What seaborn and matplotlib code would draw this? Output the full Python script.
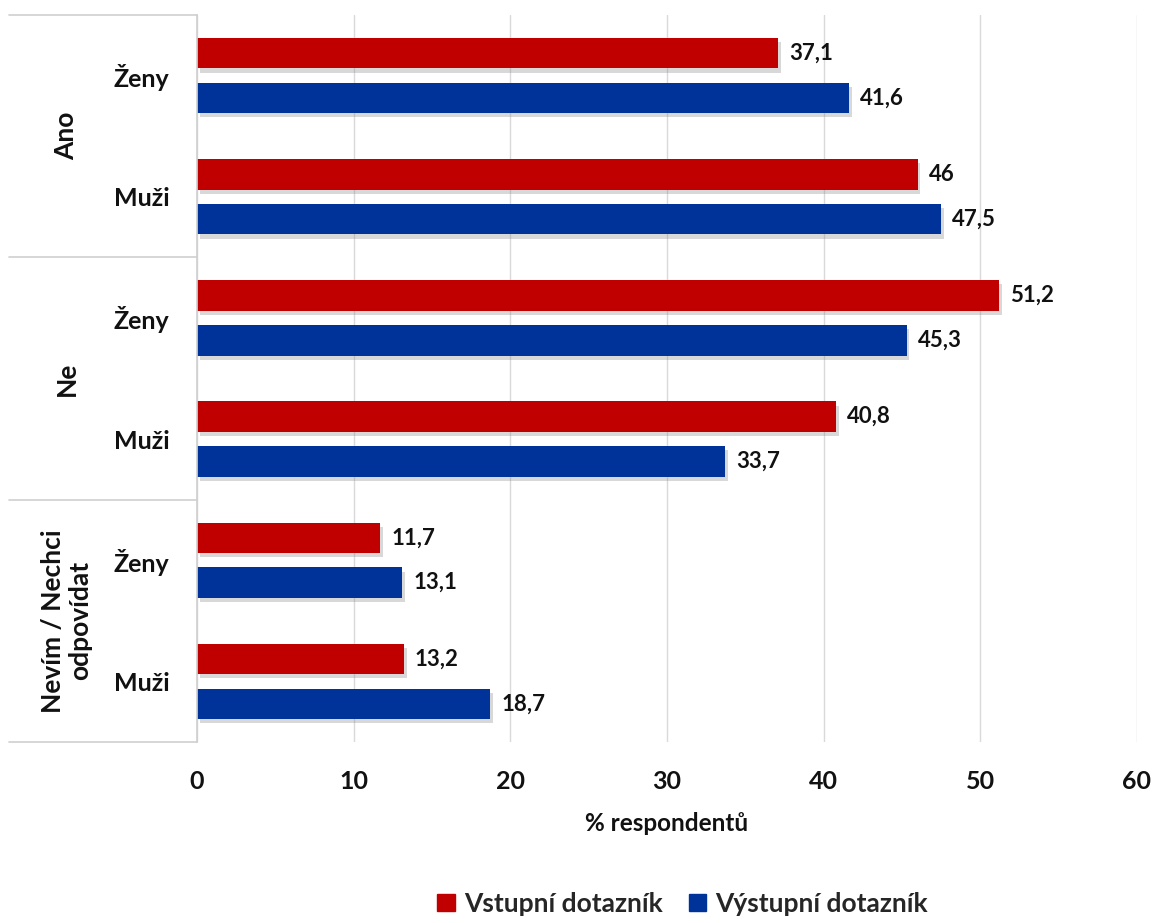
import pandas as pd
import matplotlib.pyplot as plt
import matplotlib.patheffects as pe
from matplotlib.patches import Patch
import seaborn as sns

groups = ["Ano", "Ne", "Nevím / Nechci\nodpovídat"]
sexes = ["Ženy", "Muži"]
series = ["Vstupní dotazník", "Výstupní dotazník"]
vstupni = [37.1, 46, 51.2, 40.8, 11.7, 13.2]
vystupni = [41.6, 47.5, 45.3, 33.7, 13.1, 18.7]
colors = {"Vstupní dotazník": "#C00000", "Výstupní dotazník": "#003399"}

rows = []
keys = []
for gi, g in enumerate(groups):
    for si, s in enumerate(sexes):
        k = f"{gi}|{s}"
        keys.append(k)
        i = gi * 2 + si
        rows.append({"key": k, "series": series[0], "value": vstupni[i]})
        rows.append({"key": k, "series": series[1], "value": vystupni[i]})
df = pd.DataFrame(rows)

sns.set_theme(style="white")
plt.rcParams["font.family"] = ["Lato", "DejaVu Sans"]
plt.rcParams["font.weight"] = "bold"

fig = plt.figure(figsize=(11.57, 9.23), dpi=100)
ax = fig.add_axes([0.1703, 0.1961, 0.8124, 0.7876])

sns.barplot(data=df, y="key", x="value", hue="series", order=keys,
            hue_order=series, palette=colors, saturation=1, orient="h",
            width=0.74, gap=0.32, legend=False, ax=ax)

# soft drop shadow like the original office chart
shadow = [pe.SimplePatchShadow(offset=(2, -3), shadow_rgbFace="#808080", alpha=0.3), pe.Normal()]
for p in ax.patches:
    p.set_path_effects(shadow)
    p.set_linewidth(0)

def fmt(v):
    return str(int(v)) if float(v).is_integer() else f"{v:.1f}".replace(".", ",")

for cont in ax.containers:
    ax.bar_label(cont, labels=[fmt(v) for v in cont.datavalues], padding=8,
                 fontsize=16, fontweight="bold", color="#111111")

ax.set_xlim(0, 60)
ax.set_ylim(len(keys) - 0.5, -0.5)
ax.set_xticks(range(0, 61, 10))
ax.tick_params(axis="x", labelsize=18, pad=20, length=0, colors="#111111")
ax.set_yticks(range(len(keys)))
ax.set_yticklabels([k.split("|")[1] for k in keys], fontsize=18, fontweight="bold", color="#111111")
ax.tick_params(axis="y", length=0, pad=20)
ax.grid(axis="x", color="#D9D9D9", linewidth=1)
ax.set_axisbelow(True)
for s in ["top", "right", "bottom"]:
    ax.spines[s].set_visible(False)
ax.spines["left"].set_color("#D0D0D0")
ax.set_ylabel("")
ax.set_xlabel("% respondentů", fontsize=17.5, fontweight="bold", labelpad=14, color="#111111")

trans = ax.get_yaxis_transform()
for yb in [-0.5, 1.5, 3.5, 5.5]:
    ax.plot([-0.2, 0], [yb, yb], transform=trans, color="#D0D0D0", lw=1.2, clip_on=False)
for gi, g in enumerate(groups):
    ax.text(-0.139, gi * 2 + 0.5, g, transform=trans, rotation=90, ha="center", va="center",
            fontsize=19, fontweight="bold", color="#111111", linespacing=1.15)

handles = [Patch(color=colors[s], label=s) for s in series]
fig.legend(handles=handles, loc="lower center", bbox_to_anchor=(0.59, -0.018), ncol=2, frameon=False,
           handlelength=0.65, handleheight=0.65, handletextpad=0.35, columnspacing=1.0,
           prop={"weight": "bold", "size": 19})

fig.savefig("out.png", dpi=100)
